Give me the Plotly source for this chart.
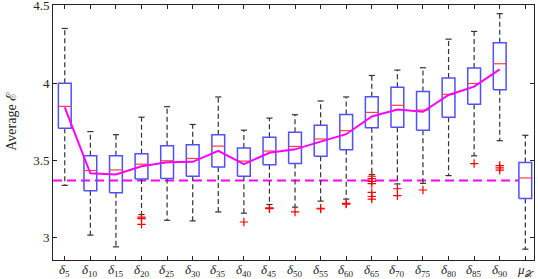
import plotly.graph_objects as go

# ---- data ----
cat_sub = ["5", "10", "15", "20", "25", "30", "35", "40", "45", "50",
           "55", "60", "65", "70", "75", "80", "85", "90", "𝒳"]
upper = [4.354, 3.687, 3.667, 3.780, 3.848, 3.733, 3.911, 3.696, 3.774, 3.796,
         3.885, 3.911, 4.050, 4.085, 4.100, 4.285, 4.335, 4.450, 3.663]
q3 = [4.000, 3.530, 3.530, 3.543, 3.596, 3.602, 3.667, 3.580, 3.650, 3.683,
      3.728, 3.798, 3.913, 3.974, 3.946, 4.033, 4.098, 4.261, 3.487]
median = [3.850, 3.435, 3.439, 3.476, 3.498, 3.513, 3.593, 3.496, 3.561, 3.591,
          3.639, 3.693, 3.811, 3.857, 3.826, 3.928, 3.998, 4.126, 3.387]
q1 = [3.709, 3.304, 3.291, 3.380, 3.383, 3.398, 3.457, 3.398, 3.472, 3.480,
      3.528, 3.570, 3.711, 3.715, 3.696, 3.780, 3.863, 3.957, 3.254]
lower = [3.339, 3.017, 2.941, 3.150, 3.113, 3.109, 3.167, 3.159, 3.215, 3.198,
         3.237, 3.250, 3.409, 3.348, 3.352, 3.402, 3.530, 3.628, 2.926]
means = [3.843, 3.417, 3.409, 3.463, 3.489, 3.491, 3.563, 3.476, 3.550, 3.572,
         3.622, 3.670, 3.785, 3.830, 3.815, 3.924, 3.978, 4.089]
outlier_cat = [4, 4, 4, 8, 9, 9, 10, 11, 11, 12, 12,
               13, 13, 13, 13, 13, 13, 13, 14, 14, 15, 17, 18, 18, 18]
outlier_val = [3.133, 3.124, 3.087, 3.102, 3.193, 3.188, 3.167, 3.191, 3.186, 3.222, 3.218,
               3.398, 3.383, 3.365, 3.350, 3.293, 3.267, 3.250, 3.317, 3.272, 3.309,
               3.480, 3.467, 3.452, 3.437]
mu_level = 3.37
y_ticks = [3, 3.5, 4, 4.5]
y_ticktext = ["3", "3.5", "4", "4.5"]

# ---- geometry / style ----
n = len(cat_sub)
xs = list(range(1, n + 1))
box_hw = 0.25
cap_hw = 0.12
SERIF = "Liberation Serif, DejaVu Serif, serif"

ticktext = []
for s in cat_sub[:-1]:
    ticktext.append("<i>δ</i><sub>" + s + "</sub>")
ticktext.append("<i>μ</i><sub>" + cat_sub[-1] + "</sub>")

fig = go.Figure()

# dashed reference level
fig.add_trace(go.Scatter(x=[xs[0] - 0.46, xs[-1] - box_hw], y=[mu_level, mu_level],
                         mode="lines", line=dict(color="#ff00ff", width=2, dash="9px,5px"),
                         hoverinfo="skip", showlegend=False))

# whiskers
wx, wy = [], []
for x, a, b, c, d in zip(xs, upper, q3, q1, lower):
    wx += [x, x, None, x, x, None]
    wy += [b, a, None, c, d, None]
fig.add_trace(go.Scatter(x=wx, y=wy, mode="lines",
                         line=dict(color="#333333", width=1.2, dash="5px,3px"),
                         hoverinfo="skip", showlegend=False))
# caps
cx, cy = [], []
for x, a, d in zip(xs, upper, lower):
    cx += [x - cap_hw, x + cap_hw, None, x - cap_hw, x + cap_hw, None]
    cy += [a, a, None, d, d, None]
fig.add_trace(go.Scatter(x=cx, y=cy, mode="lines", line=dict(color="#333333", width=1.2),
                         hoverinfo="skip", showlegend=False))
# boxes
bx, by = [], []
for x, b, c in zip(xs, q3, q1):
    bx += [x - box_hw, x + box_hw, x + box_hw, x - box_hw, x - box_hw, None]
    by += [c, c, b, b, c, None]
fig.add_trace(go.Scatter(x=bx, y=by, mode="lines", line=dict(color="#5050ff", width=1.5),
                         hoverinfo="skip", showlegend=False))
# medians
mx, my = [], []
for x, m in zip(xs, median):
    mx += [x - box_hw, x + box_hw, None]
    my += [m, m, None]
fig.add_trace(go.Scatter(x=mx, y=my, mode="lines", line=dict(color="#ff4040", width=1.2),
                         hoverinfo="skip", showlegend=False))
# mean line
fig.add_trace(go.Scatter(x=xs[:len(means)], y=means, mode="lines",
                         line=dict(color="#ff00ff", width=2),
                         hoverinfo="skip", showlegend=False))
# outliers
fig.add_trace(go.Scatter(x=outlier_cat, y=outlier_val, mode="markers",
                         marker=dict(symbol="cross-thin", size=6,
                                     line=dict(color="#ff0000", width=1.2)),
                         hoverinfo="skip", showlegend=False))

axis_common = dict(showgrid=False, zeroline=False, showline=True, mirror="ticks",
                   linecolor="#262626", linewidth=1, ticks="inside", ticklen=4,
                   tickcolor="#262626", automargin=False, ticklabeloverflow="allow")

fig.update_xaxes(range=[xs[0] - 0.46, xs[-1] + 0.34], tickvals=xs, showticklabels=False,
                 **axis_common)
fig.update_yaxes(range=[2.856, 4.506], tickvals=y_ticks, ticktext=y_ticktext,
                 tickfont=dict(family=SERIF, size=13, color="#262626"), **axis_common)

# category labels just under the axis
for x, t in zip(xs, ticktext):
    fig.add_annotation(text=t, x=x, xref="x", y=0, yref="paper", yanchor="top",
                       yshift=-1, showarrow=False, borderpad=0,
                       font=dict(family=SERIF, size=13, color="#262626"))

fig.add_annotation(text="Average ℰ", xref="paper", yref="paper", x=-0.088, y=0.545,
                   textangle=-90, showarrow=False, xanchor="center", yanchor="middle",
                   font=dict(family=SERIF, size=14, color="#262626"))

fig.update_layout(width=538, height=279, margin=dict(l=53, r=4, t=5, b=19),
                  paper_bgcolor="white", plot_bgcolor="white")

fig.write_html("out.html", config={"displayModeBar": False},
               post_script="document.body.style.margin='0';")
